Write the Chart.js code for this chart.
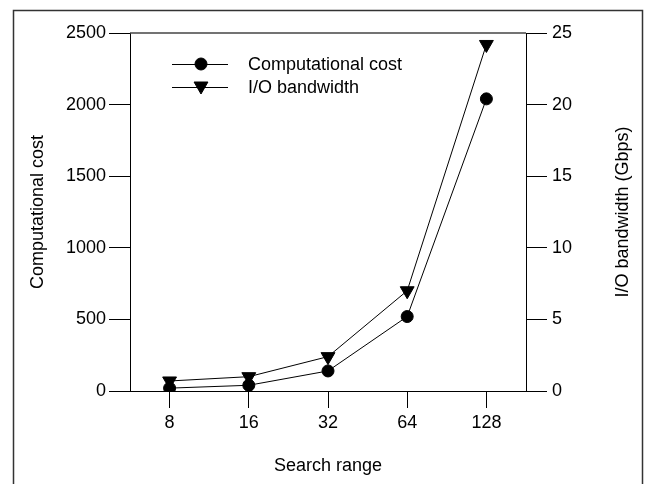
<!DOCTYPE html>
<html>
<head>
<meta charset="utf-8">
<script src="https://cdn.jsdelivr.net/npm/chart.js@4"></script>
<style>
  body { margin: 0; background: #fff; }
  canvas { display: block; }
</style>
</head>
<body>
<canvas id="chart" width="645" height="484"></canvas>
<script>
// data
const searchRange = ['8', '16', '32', '64', '128'];
const computationalCost = [20, 40, 140, 520, 2040];
const ioBandwidth = [0.7, 1.0, 2.4, 7.0, 24.2];
const costTicks = [0, 500, 1000, 1500, 2000, 2500];
const bandwidthTicks = [0, 5, 10, 15, 20, 25];

const FONT = { family: 'Liberation Sans, Arial, sans-serif', size: 18 };
const FONT_CSS = FONT.size + 'px ' + FONT.family;

// outer frame + top border of plot + right title (reads upward) + hand drawn legend
const decorations = {
    id: 'decorations',
    afterDraw(chart) {
        const ctx = chart.ctx;
        const area = chart.chartArea;
        ctx.save();
        ctx.strokeStyle = '#333';
        ctx.lineWidth = 1.5;
        ctx.strokeRect(13.5, 10.5, 629, 500);

        ctx.strokeStyle = '#444';
        ctx.lineWidth = 1.5;
        ctx.beginPath();
        ctx.moveTo(area.left, area.top);
        ctx.lineTo(area.right, area.top);
        ctx.stroke();

        // right axis title, rotated the same way as the left one
        ctx.save();
        ctx.translate(623, (area.top + area.bottom) / 2);
        ctx.rotate(-Math.PI / 2);
        ctx.fillStyle = '#000';
        ctx.font = FONT_CSS;
        ctx.textAlign = 'center';
        ctx.textBaseline = 'middle';
        ctx.fillText('I/O bandwidth (Gbps)', 0, 0);
        ctx.restore();

        // legend
        const x0 = 172, x1 = 228, textX = 248;
        const rows = [64, 87];
        chart.data.datasets.forEach((ds, i) => {
            const y = rows[i];
            ctx.strokeStyle = '#000';
            ctx.lineWidth = 1;
            ctx.beginPath();
            ctx.moveTo(x0, y + 0.5);
            ctx.lineTo(x1, y + 0.5);
            ctx.stroke();
            ctx.fillStyle = '#000';
            Chart.helpers.drawPoint(ctx, {
                pointStyle: ds.pointStyle,
                radius: ds.pointRadius,
                rotation: ds.pointRotation || 0,
                borderWidth: 1
            }, (x0 + x1) / 2 + 1, y + (ds.pointStyle === 'triangle' ? -1 : 0));
            ctx.fillStyle = '#000';
            ctx.font = FONT_CSS;
            ctx.textBaseline = 'middle';
            ctx.textAlign = 'left';
            ctx.fillText(ds.label, textX, y + 1);
        });
        ctx.restore();
    }
};

const ctx = document.getElementById('chart').getContext('2d');
new Chart(ctx, {
    type: 'line',
    data: {
        labels: searchRange,
        datasets: [{
            label: 'Computational cost',
            data: computationalCost,
            yAxisID: 'y',
            borderColor: '#000',
            backgroundColor: '#000',
            borderWidth: 1,
            pointStyle: 'circle',
            pointRadius: 6,
            pointBorderWidth: 1,
            tension: 0
        }, {
            label: 'I/O bandwidth',
            data: ioBandwidth,
            yAxisID: 'y1',
            borderColor: '#000',
            backgroundColor: '#000',
            borderWidth: 1,
            pointStyle: 'triangle',
            pointRotation: 180,
            pointRadius: 8,
            pointBorderWidth: 1,
            tension: 0
        }]
    },
    options: {
        responsive: false,
        animation: false,
        layout: { padding: { top: 33, left: 0, right: 0, bottom: 0 } },
        plugins: {
            legend: { display: false },
            tooltip: { enabled: false }
        },
        scales: {
            x: {
                offset: true,
                afterFit(scale) { scale.height = 93; },
                grid: {
                    offset: false,
                    drawOnChartArea: false,
                    tickLength: 17,
                    color: '#000'
                },
                border: { color: '#000', width: 1 },
                ticks: { color: '#000', font: FONT, padding: 4, maxRotation: 0 },
                title: {
                    display: true,
                    text: 'Search range',
                    color: '#000',
                    font: FONT,
                    padding: { top: 7, bottom: 7 }
                }
            },
            y: {
                position: 'left',
                min: 0,
                max: 2500,
                afterFit(scale) { scale.width = 130; },
                afterBuildTicks(scale) { scale.ticks = costTicks.map(v => ({ value: v })); },
                grid: {
                    drawOnChartArea: false,
                    tickLength: 21,
                    color: '#000'
                },
                border: { color: '#000', width: 1 },
                ticks: { color: '#000', font: FONT, padding: 3, callback: v => String(v) },
                title: {
                    display: true,
                    text: 'Computational cost',
                    color: '#000',
                    font: FONT,
                    padding: { top: 27, bottom: 27 }
                }
            },
            y1: {
                position: 'right',
                min: 0,
                max: 25,
                afterFit(scale) { scale.width = 119; },
                afterBuildTicks(scale) { scale.ticks = bandwidthTicks.map(v => ({ value: v })); },
                grid: {
                    drawOnChartArea: false,
                    tickLength: 21,
                    color: '#000'
                },
                border: { color: '#000', width: 1 },
                ticks: { color: '#000', font: FONT, padding: 5, callback: v => String(v) },
                title: { display: false }
            }
        }
    },
    plugins: [decorations]
});
</script>
</body>
</html>
